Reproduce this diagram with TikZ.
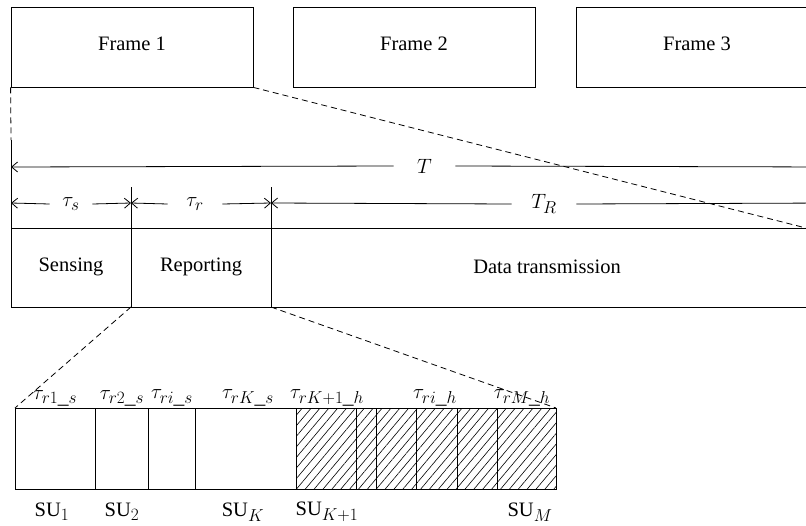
\documentclass[tikz,border=0pt]{standalone}
\usepackage{fontspec}
\setmainfont{Liberation Serif}
\DeclareMathSizes{21.5}{21.5}{16.5}{13}
\DeclareMathSizes{20.5}{20.5}{16}{12.5}
\usetikzlibrary{arrows.meta,patterns.meta}
\begin{document}
\begin{tikzpicture}[x=1pt,y=-1pt,line width=0.8pt,
  txt/.style={font=\fontsize{20.5}{24}\selectfont},
  framebox/.style={draw,rectangle,inner sep=0pt,minimum width=242pt,minimum height=80pt},
  barb/.style={-{Straight Barb[length=6pt,width=10pt,line width=0.8pt]}},
  lab/.style={txt,inner sep=0pt},
  mlab/.style={font=\fontsize{21.5}{24}\selectfont,inner sep=0pt},
  zoomline/.style={dashed,dash pattern=on 6pt off 4pt},
  hatch/.style={pattern={Lines[angle=50,distance=6.8pt,line width=0.6pt]}}]
\useasboundingbox (0,0) rectangle (806,525);
\clip (0,0) rectangle (806,525);
% frames
\node[framebox] (f1) at (132,47) {};
\node[framebox] (f2) at (414,47) {};
\node[framebox] (f3) at (697,47) {};
\node[lab] (f1t) at (132,44) {Frame 1};
\node[lab] (f2t) at (414,44) {Frame 2};
\node[lab] (f3t) at (697,44) {Frame 3};
% main boxes
\coordinate (s1) at (11,228); \coordinate (s2) at (131,307);
\coordinate (r1) at (131,228); \coordinate (r2) at (271,307);
\coordinate (d1) at (271,228); \coordinate (d2) at (830,307);
\draw (s1) rectangle (s2);
\draw (r1) rectangle (r2);
\draw (d1) rectangle (d2);
\node[txt] (sens) at (71,267) {Sensing};
\node[txt] (rep) at (201,267) {Reporting};
\node[txt] (data) at (547,267) {Data transmission};
\coordinate (dtr) at (806,228);
% extension lines
\coordinate (e0) at (11,140); \coordinate (e1) at (131,187); \coordinate (e2) at (271,187);
\draw (e1) -- (r1); \draw (e2) -- (d1); \draw (e0) -- (s1);
% dashed zoom lines
\draw[zoomline] (f1.south west) -- (e0);
\draw[zoomline] (f1.south east) -- (dtr);
% T arrow
\coordinate (tl) at (11,167); \coordinate (tr) at (830,167);
\node[mlab,minimum width=61pt] (T) at (424.5,166) {$T$};
\draw[barb] (T.west) -- (tl);
\draw (T.east) -- (tr);
% tau row
\coordinate (a0) at (11,203); \coordinate (a1) at (131,203); \coordinate (a2) at (271,203); \coordinate (a3) at (830,203);
\node[mlab,minimum width=42pt] (ts) at (71,204) {$\tau_s$};
\node[mlab,minimum width=54pt] (tr1) at (195,204) {$\tau_r$};
\node[mlab,minimum width=64pt] (TR) at (544,204) {$T_R$};
\draw[barb] (ts.west) -- (a0);
\draw[barb] (ts.east) -- (a1);
\draw[barb] (tr1.west) -- (a1);
\draw[barb] (tr1.east) -- (a2);
\draw[barb] (TR.west) -- (a2);
\draw (TR.east) -- (a3);
% bottom slots
\def\yt{408}\def\yb{489}
\fill[hatch] (296,\yt) rectangle (556,\yb);
\foreach \xa/\xb/\n in {15/95/1,95/148/2,148/195/3,195/296/4,296/356/5,356/376/6,376/416/7,416/457/8,457/497/9,497/556/10}{
  \draw (\xa,\yt) rectangle (\xb,\yb);
  \coordinate (u\n a) at (\xa,\yt);
  \coordinate (u\n b) at (\xb,\yt);
}
\draw[zoomline] (s2) -- (u1a);
\draw[zoomline] (r2) -- (u10b);
% labels
\node[mlab] (l1) at (55,398) {$\tau_{r1\_s}$};
\node[mlab] (l2) at (122,398) {$\tau_{r2\_s}$};
\node[mlab] (l3) at (172,398) {$\tau_{ri\_s}$};
\node[mlab] (l4) at (248,398) {$\tau_{rK\_s}$};
\node[mlab] (l5) at (327,398) {$\tau_{rK+1\_h}$};
\node[mlab] (l6) at (435,398) {$\tau_{ri\_h}$};
\node[mlab] (l7) at (522,398) {$\tau_{rM\_h}$};
\node[lab] (su1) at (52,512) {SU$_1$};
\node[lab] (su2) at (122,512) {SU$_2$};
\node[lab] (suk) at (243,512) {SU$_K$};
\node[lab] (suk1) at (327,512) {SU$_{K+1}$};
\node[lab] (sum) at (530,512) {SU$_M$};
\end{tikzpicture}
\end{document}
